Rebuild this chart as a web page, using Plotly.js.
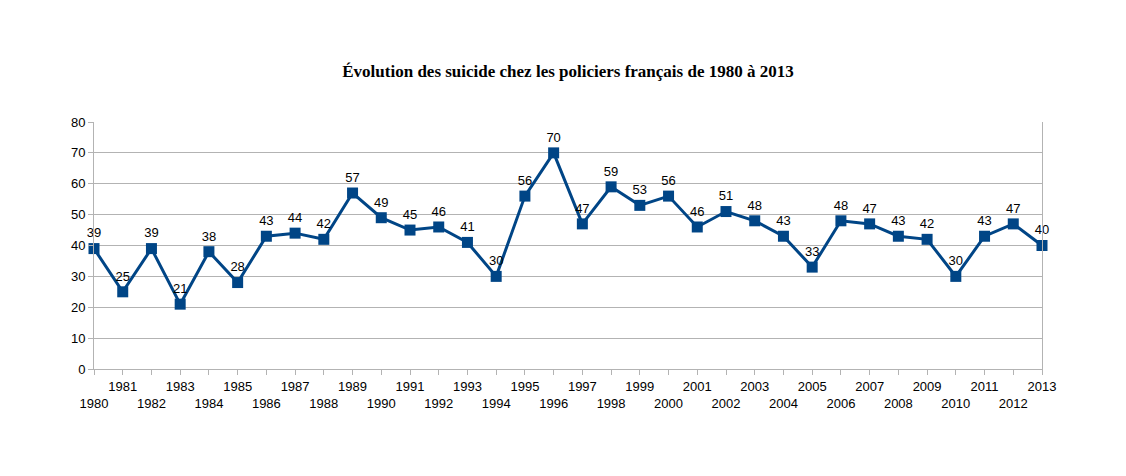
<!DOCTYPE html>
<html>
<head>
<meta charset="utf-8">
<script src="https://cdn.plot.ly/plotly-3.0.1.min.js"></script>
<style>html,body{margin:0;padding:0;background:#fff;}#chart{width:1126px;height:476px;}</style>
</head>
<body>
<div id="chart"></div>
<script>
const years = [1980,1981,1982,1983,1984,1985,1986,1987,1988,1989,1990,1991,1992,1993,1994,1995,1996,1997,1998,1999,2000,2001,2002,2003,2004,2005,2006,2007,2008,2009,2010,2011,2012,2013];
const suicides = [39,25,39,21,38,28,43,44,42,57,49,45,46,41,30,56,70,47,59,53,56,46,51,48,43,33,48,47,43,42,30,43,47,40];
const tickLabels = years.map(y => (y % 2 === 1) ? String(y) : '&nbsp;<br>' + y);
const yTicks = [0,10,20,30,40,50,60,70,80];

const trace = {
  x: years,
  y: suicides,
  type: 'scatter',
  mode: 'lines+markers+text',
  text: suicides.map(String),
  textposition: 'top center',
  textfont: {family: 'Liberation Sans, Arial, sans-serif', size: 13, color: '#000'},
  line: {color: '#004586', width: 3},
  marker: {symbol: 'square', size: 11, color: '#004586'},
  cliponaxis: false,
  hoverinfo: 'x+y'
};

const layout = {
  width: 1126,
  height: 476,
  paper_bgcolor: '#fff',
  plot_bgcolor: '#fff',
  margin: {l: 94, r: 84, t: 122, b: 107},
  showlegend: false,
  title: {
    text: 'Évolution des suicide chez les policiers français de 1980 à 2013',
    font: {family: 'Liberation Serif, Times New Roman, serif', size: 17, color: '#000', weight: 'bold'},
    x: 0.5, xanchor: 'center', y: 0.85, yanchor: 'middle', xref: 'paper'
  },
  xaxis: {
    range: [1980, 2013],
    tickmode: 'array',
    tickvals: years,
    ticktext: tickLabels,
    ticks: 'outside',
    ticklen: 5,
    tickcolor: '#b3b3b3',
    tickangle: 0,
    showgrid: false,
    zeroline: false,
    showline: true,
    linecolor: '#b3b3b3',
    linewidth: 1,
    tickfont: {family: 'Liberation Sans, Arial, sans-serif', size: 13, color: '#000'}
  },
  yaxis: {
    range: [0, 80],
    tickmode: 'array',
    tickvals: yTicks,
    ticks: 'outside',
    ticklen: 5,
    tickcolor: '#b3b3b3',
    showgrid: true,
    gridcolor: '#b3b3b3',
    gridwidth: 1,
    zeroline: false,
    showline: true,
    mirror: true,
    linecolor: '#b3b3b3',
    linewidth: 1,
    tickfont: {family: 'Liberation Sans, Arial, sans-serif', size: 13, color: '#000'}
  }
};

Plotly.newPlot('chart', [trace], layout, {displayModeBar: false, staticPlot: true});
</script>
</body>
</html>
